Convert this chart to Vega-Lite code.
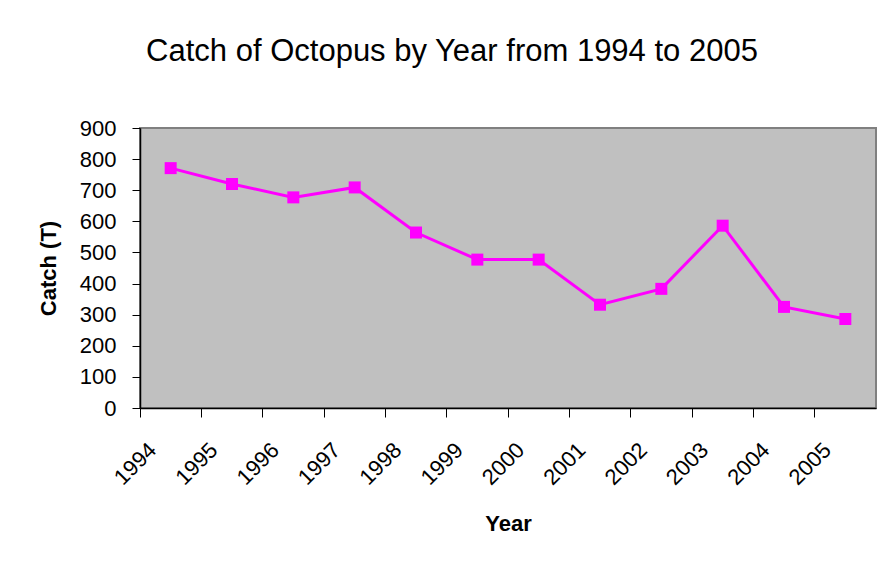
{
  "$schema": "https://vega.github.io/schema/vega-lite/v6.json",
  "width": 736,
  "height": 280,
  "autosize": {"type": "none"},
  "padding": {"left": 140, "top": 128, "right": 7, "bottom": 162},
  "background": "#ffffff",
  "title": {
    "text": "Catch of Octopus by Year from 1994 to 2005",
    "font": "Liberation Sans",
    "fontSize": 31,
    "fontWeight": "normal",
    "color": "#000000",
    "anchor": "middle",
    "dx": -56,
    "baseline": "alphabetic",
    "offset": 25
  },
  "data": {
    "values": [
      {"year": "1994", "catch": 771},
      {"year": "1995", "catch": 720},
      {"year": "1996", "catch": 677},
      {"year": "1997", "catch": 709},
      {"year": "1998", "catch": 564},
      {"year": "1999", "catch": 477},
      {"year": "2000", "catch": 477},
      {"year": "2001", "catch": 332},
      {"year": "2002", "catch": 383},
      {"year": "2003", "catch": 586},
      {"year": "2004", "catch": 325},
      {"year": "2005", "catch": 286}
    ]
  },
  "encoding": {
    "x": {
      "field": "year",
      "type": "ordinal",
      "title": "Year",
      "scale": {"type": "band", "paddingInner": 0, "paddingOuter": 0},
      "axis": {
        "bandPosition": 0,
        "labelAngle": -45,
        "labelAlign": "right",
        "labelBaseline": "top",
        "labelOffset": -25,
        "labelPadding": 22,
        "labelFont": "Liberation Sans",
        "labelFontSize": 22,
        "labelColor": "#000000",
        "tickSize": 9,
        "tickColor": "#000000",
        "domainColor": "#000000",
        "domainWidth": 1.5,
        "titleFont": "Liberation Sans",
        "titleFontSize": 22,
        "titleFontWeight": "bold",
        "titleColor": "#000000",
        "titlePadding": 25,
        "grid": false
      }
    },
    "y": {
      "field": "catch",
      "type": "quantitative",
      "title": "Catch (T)",
      "scale": {"domain": [0, 900], "nice": false},
      "axis": {
        "values": [0, 100, 200, 300, 400, 500, 600, 700, 800, 900],
        "labelFont": "Liberation Sans",
        "labelFontSize": 22,
        "labelColor": "#000000",
        "labelPadding": 16,
        "tickSize": 8,
        "tickColor": "#000000",
        "domainColor": "#000000",
        "domainWidth": 1.5,
        "titleFont": "Liberation Sans",
        "titleFontSize": 22,
        "titleFontWeight": "bold",
        "titleColor": "#000000",
        "titlePadding": 19,
        "grid": false
      }
    }
  },
  "layer": [
    {"mark": {"type": "line", "color": "#ff00ff", "strokeWidth": 3}},
    {"mark": {"type": "point", "shape": "square", "filled": true, "color": "#ff00ff", "size": 144, "opacity": 1}}
  ],
  "config": {
    "view": {"fill": "#c0c0c0", "stroke": "#808080", "strokeWidth": 2}
  }
}
